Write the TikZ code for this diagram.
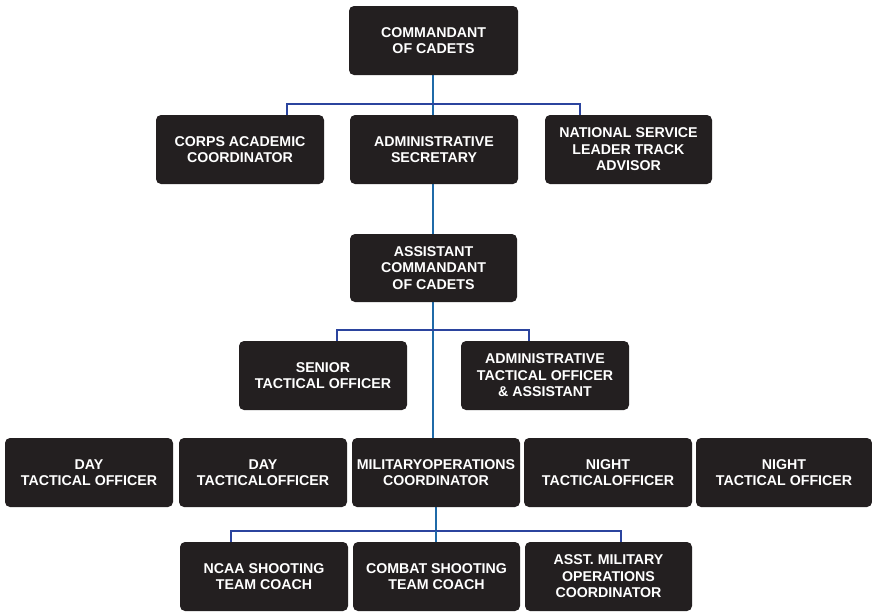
\documentclass[tikz,border=0pt]{standalone}
\usepackage{fontspec}
\setmainfont{Liberation Sans}
\usetikzlibrary{backgrounds}
\definecolor{boxfill}{HTML}{231F20}
\definecolor{vline}{HTML}{1F6AA8}
\definecolor{hline}{HTML}{2B449E}
\begin{document}
\begin{tikzpicture}[x=1pt,y=-1pt,
  orgbox/.style={rectangle, rounded corners=5pt, fill=boxfill, text=white,
    minimum width=168pt, minimum height=69pt, inner sep=0pt, align=center,
    font=\fontsize{14.2}{16.5}\selectfont\bfseries},
  vlink/.style={draw=vline, line width=2pt},
  hlink/.style={draw=hline, line width=2pt}]
\useasboundingbox (0,0) rectangle (872,611);
% junction coordinates
\coordinate (j1) at (433,104);
\coordinate (j1l) at (287,104);
\coordinate (j1r) at (580,104);
\coordinate (j2) at (433,330);
\coordinate (j2l) at (337,330);
\coordinate (j2r) at (529,330);
\coordinate (j3) at (436,531);
\coordinate (j3l) at (231,531);
\coordinate (j3r) at (621,531);
% nodes
\node[orgbox, minimum width=169pt] (com) at (433.5,40.5) {COMMANDANT\\OF CADETS};
\node[orgbox] (corps) at (240,149.5) {CORPS ACADEMIC\\COORDINATOR};
\node[orgbox] (sec) at (434,149.5) {ADMINISTRATIVE\\SECRETARY};
\node[orgbox, minimum width=167pt] (nat) at (628.5,149.5) {NATIONAL SERVICE\\LEADER TRACK\\ADVISOR};
\node[orgbox, minimum width=167pt, minimum height=68pt] (asst) at (433.5,268) {ASSISTANT\\COMMANDANT\\OF CADETS};
\node[orgbox] (senior) at (323,375.5) {SENIOR\\TACTICAL OFFICER};
\node[orgbox] (admtac) at (545,375.5) {ADMINISTRATIVE\\TACTICAL OFFICER\\\& ASSISTANT};
\node[orgbox] (day1) at (89,472.5) {DAY\\TACTICAL OFFICER};
\node[orgbox] (day2) at (263,472.5) {DAY\\TACTICALOFFICER};
\node[orgbox] (mil) at (436,472.5) {MILITARYOPERATIONS\\COORDINATOR};
\node[orgbox] (night1) at (608,472.5) {NIGHT\\TACTICALOFFICER};
\node[orgbox, minimum width=176pt] (night2) at (784,472.5) {NIGHT\\TACTICAL OFFICER};
\node[orgbox] (ncaa) at (264,576.5) {NCAA SHOOTING\\TEAM COACH};
\node[orgbox, minimum width=167pt] (combat) at (436.5,576.5) {COMBAT SHOOTING\\TEAM COACH};
\node[orgbox, minimum width=167pt] (asstmil) at (608.5,576.5) {ASST. MILITARY\\OPERATIONS\\COORDINATOR};
% connectors behind boxes
\begin{scope}[on background layer]
\draw[vlink] (com.south -| j1) -- (asst.north -| j1);
\draw[vlink] (asst.south -| j2) -- (mil.north -| j2);
\draw[vlink] (mil.south -| j3) -- (j3);
\draw[hlink] (corps.north -| j1l) -- (j1l) -- (j1r) -- (nat.north -| j1r);
\draw[hlink] (senior.north -| j2l) -- (j2l) -- (j2r) -- (admtac.north -| j2r);
\draw[hlink] (ncaa.north -| j3l) -- (j3l) -- (j3r) -- (asstmil.north -| j3r);
\draw[vlink] (j3) -- (combat.north -| j3);
\end{scope}
\end{tikzpicture}
\end{document}
